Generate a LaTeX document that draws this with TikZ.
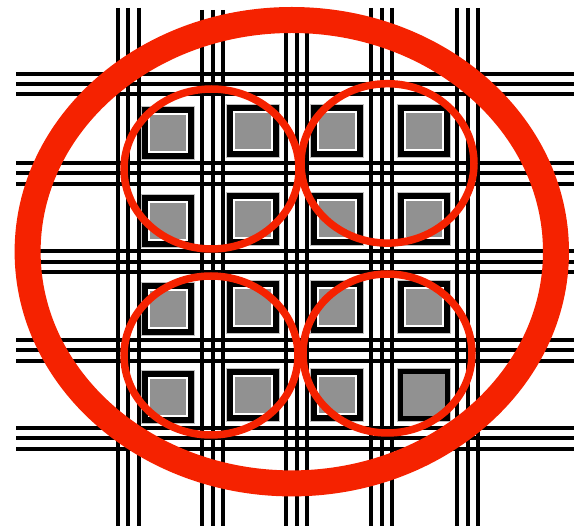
\documentclass[tikz,border=0pt]{standalone}
\usepackage{tikz}
\usetikzlibrary{positioning}
\definecolor{ringred}{RGB}{245,34,0}
\definecolor{cellgray}{RGB}{145,145,145}

\begin{document}
\begin{tikzpicture}[x=1pt,y=-1pt,
  rail/.style={line width=4pt,black},
  cell/.style={rectangle,inner sep=0pt,minimum size=38pt,fill=cellgray,
    draw=white,line width=2pt,
    preaction={draw=black!25,line width=16pt},
    preaction={draw=black,line width=14pt}},
  lastcell/.style={rectangle,inner sep=0pt,minimum size=47pt,fill=cellgray,
    draw=black,line width=5pt,
    preaction={draw=black!25,line width=7pt}},
  zone/.style={draw=ringred,line width=7.5pt},
  hull/.style={draw=ringred,line width=26pt}
]
\useasboundingbox (0,0) rectangle (574,526);

\draw[rail] (117.7,8) -- (117.7,526) (128,8) -- (128,526) (138.5,8) -- (138.5,526);
\draw[rail] (202,10) -- (202,526) (212.5,10) -- (212.5,526) (222.8,10) -- (222.8,526);
\draw[rail] (286.3,8) -- (286.3,526) (296.7,8) -- (296.7,526) (306.9,8) -- (306.9,526);
\draw[rail] (371.2,8) -- (371.2,526) (381.7,8) -- (381.7,526) (392.2,8) -- (392.2,526);
\draw[rail] (457,8) -- (457,526) (467.5,8) -- (467.5,526) (478,8) -- (478,526);

\draw[rail] (16,73.7) -- (574,73.7) (16,83.8) -- (574,83.8) (16,94.5) -- (574,94.5);
\draw[rail] (16,163) -- (574,163) (16,173.5) -- (574,173.5) (16,184) -- (574,184);
\draw[rail] (16,251.5) -- (574,251.5) (16,262) -- (574,262) (16,272.5) -- (574,272.5);
\draw[rail] (16,340) -- (574,340) (16,350.5) -- (574,350.5) (16,360.7) -- (574,360.7);
\draw[rail] (16,428) -- (574,428) (16,438.5) -- (574,438.5) (16,448.7) -- (574,448.7);

\node[cell] (c11) at (168.3,132.8) {};
\node[cell] (c12) at (252.8,130.8) {};
\node[cell] (c13) at (337.2,130.8) {};
\node[cell] (c14) at (423.8,130.8) {};
\node[cell] (c21) at (168.3,221.2) {};
\node[cell] (c22) at (252.8,219.5) {};
\node[cell] (c23) at (337.2,219.5) {};
\node[cell] (c24) at (423.8,219.5) {};
\node[cell] (c31) at (168.3,308.8) {};
\node[cell] (c32) at (252.8,307.5) {};
\node[cell] (c33) at (337.2,307.5) {};
\node[cell] (c34) at (423.8,307.5) {};
\node[cell] (c41) at (168.3,397.2) {};
\node[cell] (c42) at (252.8,394.8) {};
\node[cell] (c43) at (337.2,394.8) {};
\node[lastcell] (c44) at (423.8,394.8) {};

\draw[zone] (211.5,169) ellipse [x radius=87.5pt,y radius=80pt];
\draw[zone] (387.5,163.4) ellipse [x radius=86.5pt,y radius=79.7pt];
\draw[zone] (211,355.5) ellipse [x radius=87pt,y radius=79.5pt];
\draw[zone] (387.5,353.5) ellipse [x radius=84.5pt,y radius=79.5pt];

\draw[hull] (291.8,251.7) ellipse [x radius=264.2pt,y radius=231.7pt];
\end{tikzpicture}
\end{document}
